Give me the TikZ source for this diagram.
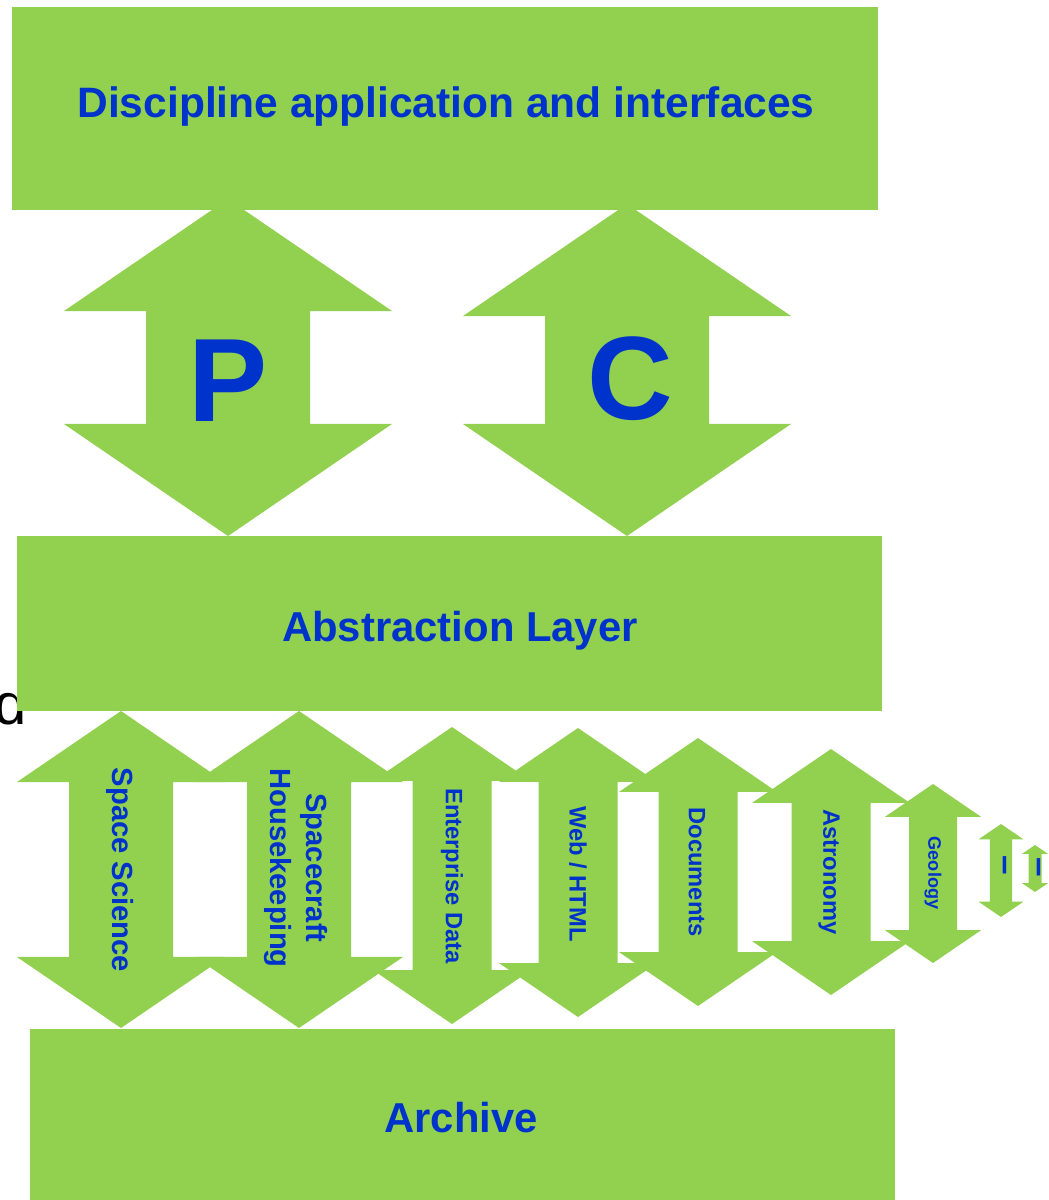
\documentclass[tikz,border=0pt]{standalone}
\usepackage{fontspec}
\setmainfont{Liberation Sans}
\definecolor{boxgreen}{RGB}{146,208,80}
\definecolor{textblue}{RGB}{0,51,204}

\begin{document}
\begin{tikzpicture}[x=0.02cm, y=-0.02cm,
  box/.style={fill=boxgreen},
  dblarrow/.style={fill=boxgreen},
  title/.style={text=textblue, inner sep=0pt, font=\fontsize{23.8}{28}\selectfont\bfseries},
  big/.style={text=textblue, inner sep=0pt, font=\fontsize{67.5}{70}\selectfont\bfseries},
  side/.style={text=textblue, inner sep=0pt, rotate=-90, align=center}]

\useasboundingbox (0,0) rectangle (1048,1200);

% Stray letter at the left edge (partly under the layer box)
\node[anchor=base east, inner sep=0pt, font=\fontsize{33}{36}\selectfont] (dchar) at (27,724) {d};

% Double arrows: centre x, top tip, bottom tip, half shaft width
\foreach \cx/\ya/\yb/\w in {228/199/536/82, 627/204/536/82,
    121/711/1028/52, 299/711/1028/52, 452/727/1024/39.5, 578/728/1017/39.5,
    698/738/1006/39.5, 831/749/995/39.5, 933/784/963/24, 1001/824/917/11.2,
    1035/845/892/6.5}
  \fill[dblarrow] (\cx,\ya) -- ({\cx+2*\w},{\ya+1.366*\w}) -- ({\cx+\w},{\ya+1.366*\w})
    -- ({\cx+\w},{\yb-1.366*\w}) -- ({\cx+2*\w},{\yb-1.366*\w}) -- (\cx,\yb)
    -- ({\cx-2*\w},{\yb-1.366*\w}) -- ({\cx-\w},{\yb-1.366*\w})
    -- ({\cx-\w},{\ya+1.366*\w}) -- ({\cx-2*\w},{\ya+1.366*\w}) -- cycle;

% Layers
\fill[box] (12,7) rectangle (878,210);
\fill[box] (17,536) rectangle (882,711);
\fill[box] (30,1029) rectangle (895,1200);

\node[title, anchor=base, font=\fontsize{24.2}{28}\selectfont\bfseries] (disc) at (446,117) {Discipline application and interfaces};
\node[title, anchor=base] (abstr) at (460,641) {Abstraction Layer};
\node[title, anchor=base] (archive) at (461,1132) {Archive};

% Letters on the upper arrows
\node[big, anchor=base] (lblP) at (228,421) {P};
\node[big, anchor=base] (lblC) at (630,419) {C};

% Labels on the lower arrows
\node[side, font=\fontsize{16.6}{20.4}\selectfont\bfseries] (sci) at (120,870) {Space Science};
\node[side, font=\fontsize{16.6}{20.4}\selectfont\bfseries] (hk) at (296,868) {Spacecraft\\Housekeeping};
\node[side, font=\fontsize{13.5}{16}\selectfont\bfseries] (ent) at (452,876) {Enterprise Data};
\node[side, font=\fontsize{13.5}{16}\selectfont\bfseries] (web) at (578,874) {Web / HTML};
\node[side, font=\fontsize{13.5}{16}\selectfont\bfseries] (docs) at (697,872) {Documents};
\node[side, font=\fontsize{13.5}{16}\selectfont\bfseries] (astro) at (829,872) {Astronomy};
\node[side, font=\fontsize{10.3}{12}\selectfont\bfseries] (geo) at (933,873) {Geology};
\node[side, font=\fontsize{20}{22}\selectfont\bfseries] (more1) at (1001,865) {\textendash};
\node[side, font=\fontsize{20}{22}\selectfont\bfseries] (more2) at (1035,867) {\textendash};

\end{tikzpicture}
\end{document}
